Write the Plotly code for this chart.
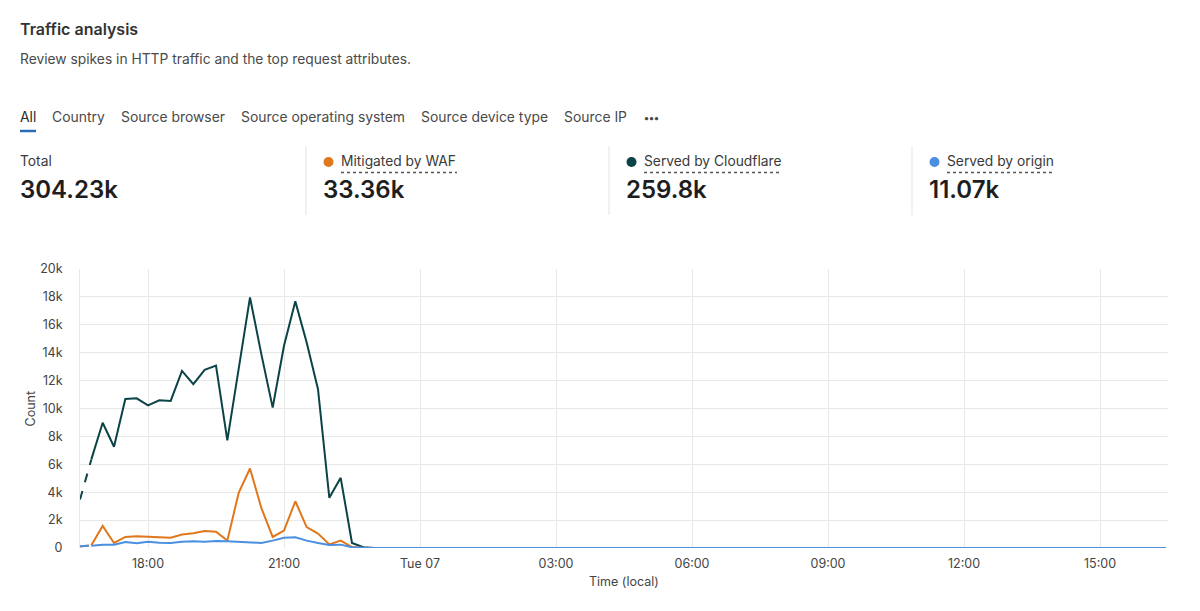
import pandas as pd
import plotly.graph_objects as go

# ---------------- data ----------------
start_time = "2025-01-06 16:30"
interval = "15min"

served_cloudflare = [
    3470, 6350, 8980, 7260, 10680, 10730, 10230, 10590, 10540, 12690,
    11740, 12770, 13080, 7710, 12900, 17960, 13900, 10060, 14500, 17680,
    14730, 11380, 3600, 5030, 360, 50, 0, 0, 0, 0,
    0, 0, 0, 0, 0, 0, 0, 0, 0, 0,
    0, 0, 0, 0, 0, 0, 0, 0, 0, 0,
    0, 0, 0, 0, 0, 0, 0, 0, 0, 0,
    0, 0, 0, 0, 0, 0, 0, 0, 0, 0,
    0, 0, 0, 0, 0, 0, 0, 0, 0, 0,
    0, 0, 0, 0, 0, 0, 0, 0, 0, 0,
    0, 0, 0, 0, 0, 0, 0,
]
mitigated_waf = [
    100, 190, 1580, 360, 790, 840, 810, 810, 740, 960,
    1050, 1220, 1170, 530, 3950, 5700, 2870, 790, 1250, 3350,
    1500, 1030, 260, 530, 70, 0, 0, 0, 0, 0,
    0, 0, 0, 0, 0, 0, 0, 0, 0, 0,
    0, 0, 0, 0, 0, 0, 0, 0, 0, 0,
    0, 0, 0, 0, 0, 0, 0, 0, 0, 0,
    0, 0, 0, 0, 0, 0, 0, 0, 0, 0,
    0, 0, 0, 0, 0, 0, 0, 0, 0, 0,
    0, 0, 0, 0, 0, 0, 0, 0, 0, 0,
    0, 0, 0, 0, 0, 0, 0,
]
served_origin = [
    120, 170, 240, 240, 430, 340, 450, 380, 360, 450,
    480, 450, 500, 480, 450, 380, 360, 530, 740, 770,
    530, 360, 220, 240, 50, 20, 0, 0, 0, 0,
    0, 0, 0, 0, 0, 40, 0, 0, 0, 30,
    0, 0, 0, 0, 0, 50, 0, 0, 0, 0,
    0, 0, 0, 0, 0, 0, 0, 0, 0, 0,
    0, 0, 0, 0, 0, 0, 0, 0, 0, 0,
    0, 0, 30, 0, 0, 0, 0, 0, 0, 0,
    0, 0, 0, 40, 0, 0, 0, 0, 0, 0,
    0, 0, 0, 0, 0, 0, 0,
]

x_tick_values = ["2025-01-06 18:00", "2025-01-06 21:00", "2025-01-07 00:00",
                 "2025-01-07 03:00", "2025-01-07 06:00", "2025-01-07 09:00",
                 "2025-01-07 12:00", "2025-01-07 15:00"]
x_tick_labels = ["18:00", "21:00", "Tue 07", "03:00", "06:00", "09:00", "12:00", "15:00"]
y_tick_values = [0, 2000, 4000, 6000, 8000, 10000, 12000, 14000, 16000, 18000, 20000]
y_tick_labels = ["0", "2k", "4k", "6k", "8k", "10k", "12k", "14k", "16k", "18k", "20k"]
x_range = ["2025-01-06 16:30", "2025-01-07 16:30"]

tabs = ["All", "Country", "Source browser", "Source operating system",
        "Source device type", "Source IP", "•••"]
stat_labels = ["Total", "Mitigated by WAF", "Served by Cloudflare", "Served by origin"]
stat_values = ["304.23k", "33.36k", "259.8k", "11.07k"]

times = pd.date_range(start_time, periods=len(served_cloudflare), freq=interval)

# ---------------- style ----------------
W, H = 1200, 611
L, R, T, B = 80, 32, 269, 63
PW, PH = W - L - R, H - T - B
FONT = "Inter, Roboto, 'Noto Sans', sans-serif"
C_DARK = "#0b4347"
C_ORANGE = "#e0771c"
C_BLUE = "#4a8fe0"


def px(x):
    return (x - L) / PW


def py(y):
    return (H - B - y) / PH


fig = go.Figure()

series = [
    (served_cloudflare, C_DARK, "Served by Cloudflare"),
    (mitigated_waf, C_ORANGE, "Mitigated by WAF"),
    (served_origin, C_BLUE, "Served by origin"),
]
n = len(times)
for vals, color, name in series:
    # dashed partial first and last intervals
    fig.add_trace(go.Scatter(x=times[0:2], y=vals[0:2], mode="lines", name=name,
                             line=dict(color=color, width=2, dash="dash"),
                             showlegend=False, hoverinfo="skip"))
    fig.add_trace(go.Scatter(x=times[1:n - 1], y=vals[1:n - 1], mode="lines", name=name,
                             line=dict(color=color, width=2), showlegend=False))
    fig.add_trace(go.Scatter(x=times[n - 2:n], y=vals[n - 2:n], mode="lines", name=name,
                             line=dict(color=color, width=2, dash="dash"),
                             showlegend=False, hoverinfo="skip"))

annotations = []
shapes = []


def text(t, x, y, size, color, weight=400, anchor="left"):
    annotations.append(dict(text=t, x=px(x - 2), y=py(y), xref="paper", yref="paper",
                            xanchor=anchor, yanchor="middle", showarrow=False,
                            font=dict(family=FONT, size=size, color=color, weight=weight)))


# title & subtitle
text("Traffic analysis", 20, 29, 16, "#333333", 600)
text("Review spikes in HTTP traffic and the top request attributes.", 20, 59, 13.8, "#4a4a4a")

# tabs
tab_x = [20, 52, 121, 241, 421, 564, 644]
for t, tx in zip(tabs, tab_x):
    if t == "•••":
        text(t, tx, 118, 10.5, "#4a4a4a", 700)
    else:
        text(t, tx, 117, 13.9, "#2b2b2b" if t == "All" else "#4a4a4a")
shapes.append(dict(type="line", xref="paper", yref="paper", x0=px(20), x1=px(36),
                   y0=py(131), y1=py(131), line=dict(color="#2c6db4", width=2.5)))

# stats
stat_x = [20, 323, 626, 929]
dot_colors = [None, C_ORANGE, C_DARK, C_BLUE]
label_widths = [0, 116, 137, 106]
for i, (lab, val) in enumerate(zip(stat_labels, stat_values)):
    sx = stat_x[i]
    tx = sx if i == 0 else sx + 18
    text(lab, tx, 161, 13.8, "#3a3a3a")
    text(val, sx, 189, 24, "#1e1e1e", 600)
    if i > 0:
        cx, cy, r = sx + 5.5, 162, 5
        shapes.append(dict(type="circle", xref="paper", yref="paper",
                           x0=px(cx - r), x1=px(cx + r), y0=py(cy + r), y1=py(cy - r),
                           fillcolor=dot_colors[i], line=dict(width=0)))
        shapes.append(dict(type="line", xref="paper", yref="paper",
                           x0=px(tx), x1=px(tx + label_widths[i]), y0=py(172.5), y1=py(172.5),
                           line=dict(color="#555555", width=1.3, dash="dot")))
for dx in [306, 609, 912]:
    shapes.append(dict(type="line", xref="paper", yref="paper", x0=px(dx), x1=px(dx),
                       y0=py(146), y1=py(215), line=dict(color="#e3e3e3", width=1)))

# axis titles
annotations.append(dict(text="Count", x=px(30), y=0.5, xref="paper", yref="paper",
                        xanchor="center", yanchor="middle", showarrow=False, textangle=-90,
                        font=dict(family=FONT, size=12.5, color="#444444")))
annotations.append(dict(text="Time (local)", x=0.5, y=py(581), xref="paper", yref="paper",
                        xanchor="center", yanchor="middle", showarrow=False,
                        font=dict(family=FONT, size=12.5, color="#444444")))

fig.update_layout(
    width=W, height=H,
    margin=dict(l=L, r=R, t=T, b=B, autoexpand=False),
    paper_bgcolor="white", plot_bgcolor="white",
    showlegend=False,
    annotations=annotations, shapes=shapes,
    font=dict(family=FONT, size=12.5, color="#444444"),
    xaxis=dict(type="date", range=x_range, tickvals=x_tick_values, ticktext=x_tick_labels,
               showgrid=True, gridcolor="#e8e8e8", gridwidth=1, zeroline=False,
               showline=False, ticks="", ticklabelstandoff=6,
               tickfont=dict(family=FONT, size=12.5, color="#444444")),
    yaxis=dict(range=[0, 20000], tickvals=y_tick_values, ticktext=y_tick_labels,
               showgrid=True, gridcolor="#e8e8e8", gridwidth=1, zeroline=False,
               showline=True, linecolor="#e8e8e8", linewidth=1, ticks="",
               ticklabelstandoff=14,
               tickfont=dict(family=FONT, size=12.5, color="#444444")),
)

fig.write_html("out.html")
